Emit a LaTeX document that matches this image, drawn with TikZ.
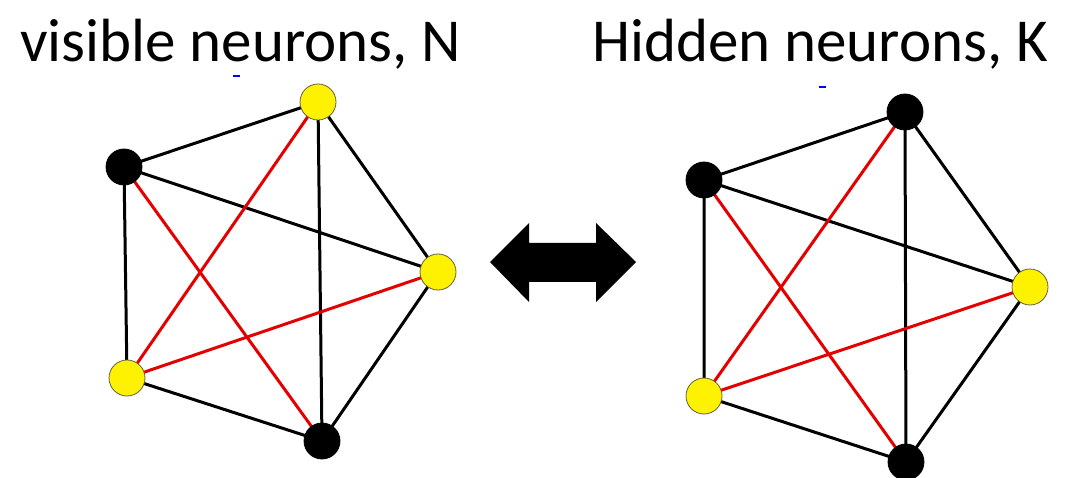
\documentclass[tikz,border=0pt]{standalone}
\usepackage{fontspec}
\setmainfont{Carlito}
\begin{document}
\begin{tikzpicture}[x=1pt,y=-1pt,
  neuron/.style={circle,draw=black!70!yellow,line width=0.8pt,minimum size=36pt,inner sep=0pt},
  vis/.style={neuron,fill=yellow},
  hid/.style={neuron,draw=black,fill=black},
  blk/.style={line width=3pt,black},
  rd/.style={line width=3pt,red!90!black},
  title/.style={font=\fontsize{61}{61}\selectfont,anchor=base west,inner sep=0pt}]
\useasboundingbox (0,0) rectangle (1073,478);
% titles
\node[title] (t1) at (20,62) {visible neurons, N};
\node[title] (t2) at (592,62) {Hidden neurons, K};
\draw[blue,line width=2pt] (233,76) -- (240,76);
\draw[blue,line width=2pt] (819,87) -- (826,87);
% left graph
\coordinate (a1) at (124,167);
\coordinate (a2) at (318,102);
\coordinate (a3) at (438,272);
\coordinate (a4) at (127,378);
\coordinate (a5) at (322,441);
\draw[blk] (a1)--(a2) (a1)--(a3) (a1)--(a4) (a2)--(a3) (a2)--(a5) (a3)--(a5) (a4)--(a5);
\draw[rd] (a2)--(a4) (a1)--(a5) (a3)--(a4);
\node[hid] (A1) at (a1) {};
\node[vis] (A2) at (a2) {};
\node[vis] (A3) at (a3) {};
\node[vis] (A4) at (a4) {};
\node[hid] (A5) at (a5) {};
% right graph
\coordinate (b1) at (704,180);
\coordinate (b2) at (905,112);
\coordinate (b3) at (1030,287);
\coordinate (b4) at (704,396);
\coordinate (b5) at (906,462);
\draw[blk] (b1)--(b2) (b1)--(b3) (b1)--(b4) (b2)--(b3) (b2)--(b5) (b3)--(b5) (b4)--(b5);
\draw[rd] (b2)--(b4) (b1)--(b5) (b3)--(b4);
\node[hid] (B1) at (b1) {};
\node[hid] (B2) at (b2) {};
\node[vis] (B3) at (b3) {};
\node[vis] (B4) at (b4) {};
\node[hid] (B5) at (b5) {};
% double arrow
\fill[black] (490,262) -- (529,223) -- (529,243) -- (596,243) -- (596,223) -- (636,262)
  -- (596,302) -- (596,282) -- (529,282) -- (529,302) -- cycle;
\end{tikzpicture}
\end{document}
